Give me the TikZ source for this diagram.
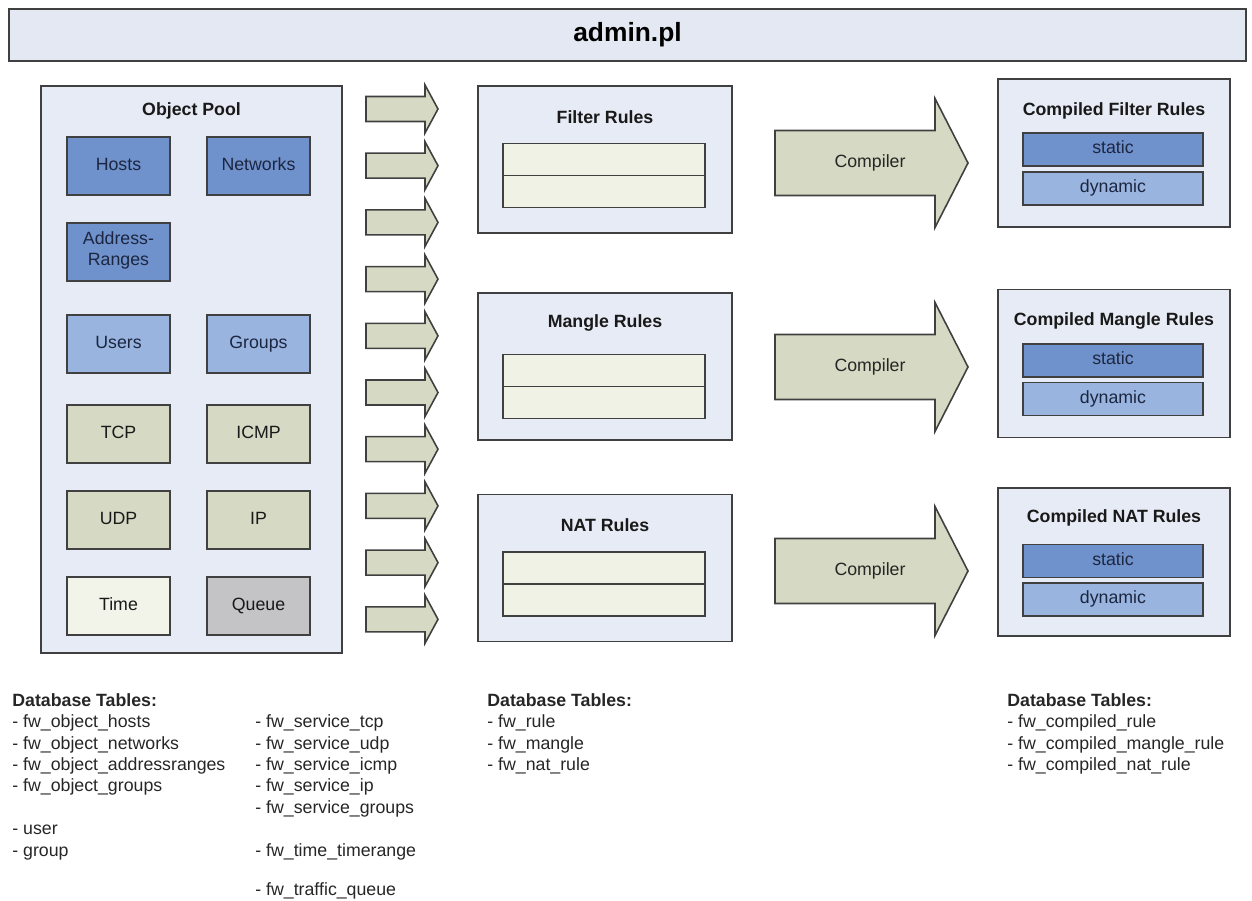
\documentclass[tikz,border=0pt]{standalone}
\usepackage{fontspec}
\setmainfont{Liberation Sans}
\usepackage{tikz}
\usetikzlibrary{positioning}
\definecolor{BarFill}{RGB}{227,232,243}
\definecolor{PoolFill}{RGB}{230,235,245}
\definecolor{HostBlue}{RGB}{111,145,204}
\definecolor{UserBlue}{RGB}{152,180,223}
\definecolor{ServKhaki}{RGB}{214,217,195}
\definecolor{TimeFill}{RGB}{242,243,233}
\definecolor{QueueGray}{RGB}{196,196,199}
\definecolor{TableFill}{RGB}{241,242,230}
\definecolor{EdgeGray}{RGB}{64,64,64}
\definecolor{NavyText}{RGB}{28,38,64}
\newcommand{\diagfont}{\fontsize{10.1}{12.2}\selectfont}

\begin{document}
\begin{tikzpicture}[x=0.02cm, y=-0.02cm, font=\diagfont]
    \tikzset{
        titlebar/.style={rectangle, draw=EdgeGray, line width=1.1pt, fill=BarFill,
            minimum width=24.74cm, minimum height=1.04cm,
            font=\fontsize{15}{18}\selectfont\bfseries},
        outerbox/.style={rectangle, draw=EdgeGray, line width=1pt, fill=PoolFill},
        boxtitle/.style={inner sep=0pt, font=\diagfont\bfseries, text=black!90},
        objbox/.style={rectangle, draw=EdgeGray, line width=0.9pt, inner sep=0pt,
            minimum width=2.06cm, minimum height=1.16cm, align=center,
            execute at begin node=\strut},
        hostobj/.style={objbox, fill=HostBlue, text=NavyText},
        userobj/.style={objbox, fill=UserBlue, text=NavyText},
        servobj/.style={objbox, fill=ServKhaki, text=black!90},
        timeobj/.style={objbox, fill=TimeFill, text=black!90},
        queueobj/.style={objbox, fill=QueueGray, text=black!90},
        feedarrow/.style={draw=EdgeGray, line width=0.9pt, fill=ServKhaki},
        compilearrow/.style={draw=EdgeGray, line width=0.9pt, fill=ServKhaki},
        arrowtext/.style={inner sep=0pt, text=black!85},
        rulebox/.style={outerbox, minimum width=5.08cm, minimum height=2.94cm},
        rulerow/.style={rectangle, draw=EdgeGray, line width=0.9pt, fill=TableFill,
            minimum width=4.04cm, minimum height=0.64cm},
        compiledbox/.style={outerbox, minimum width=4.64cm, minimum height=2.96cm},
        staticpart/.style={rectangle, draw=EdgeGray, line width=0.9pt, fill=HostBlue,
            text=NavyText, inner sep=0pt, minimum width=3.6cm, minimum height=0.66cm,
            execute at begin node=\strut},
        dynamicpart/.style={staticpart, fill=UserBlue},
        dbtext/.style={anchor=north west, align=left, inner sep=0pt, text=black!85}
    }
    \useasboundingbox (0,0) rectangle (1252,901);

    \node[titlebar] (admin) at (627.5,35) {admin.pl};

    % object pool
    \node[outerbox, minimum width=6.02cm, minimum height=11.34cm] (pool) at (191.5,369.5) {};
    \node[boxtitle] (pooltitle) at (191.5,111) {Object Pool};
    \node[hostobj] (hosts) at (118.5,166) {Hosts};
    \node[hostobj] (networks) at (258.5,166) {Networks};
    \node[hostobj] (ranges) at (118.5,252) {Address-\\Ranges};
    \node[userobj] (users) at (118.5,344) {Users};
    \node[userobj] (groups) at (258.5,344) {Groups};
    \node[servobj] (tcp) at (118.5,434) {TCP};
    \node[servobj] (icmp) at (258.5,434) {ICMP};
    \node[servobj] (udp) at (118.5,520) {UDP};
    \node[servobj] (ip) at (258.5,520) {IP};
    \node[timeobj] (time) at (118.5,606) {Time};
    \node[queueobj] (queue) at (258.5,606) {Queue};

    % feed arrows
    \foreach \i in {0,...,9}{
        \pgfmathsetmacro{\yy}{109+56.7*\i}
        \draw[feedarrow, shift={(366,\yy)}] (0,-12.5) -- (59,-12.5) -- (59,-24)
            -- (72,0) -- (59,24) -- (59,12.5) -- (0,12.5) -- cycle;
    }

    % rule tables
    \node[rulebox] (filter) at (605,159.5) {};
    \node[boxtitle] (filtertitle) at (605,117) {Filter Rules};
    \node[rulerow] (filterrow1) at (604,159.5) {};
    \node[rulerow] (filterrow2) at (604,191.5) {};

    \node[rulebox] (mangle) at (605,366.5) {};
    \node[boxtitle] (mangletitle) at (605,323) {Mangle Rules};
    \node[rulerow] (manglerow1) at (604,370.5) {};
    \node[rulerow] (manglerow2) at (604,402.5) {};

    \node[rulebox] (nat) at (605,568) {};
    \node[boxtitle] (nattitle) at (605,525) {NAT Rules};
    \node[rulerow] (natrow1) at (604,568) {};
    \node[rulerow] (natrow2) at (604,600) {};

    % compilers
    \foreach \yc/\name in {163/compfilter, 367/compmangle, 571/compnat}{
        \draw[compilearrow, shift={(775,\yc)}] (0,-32.5) -- (160,-32.5) -- (160,-64.5)
            -- (193,0) -- (160,64.5) -- (160,32.5) -- (0,32.5) -- cycle;
        \node[arrowtext] (\name) at (870,\yc) {Compiler};
    }

    % compiled tables
    \node[compiledbox] (cfilter) at (1114,153) {};
    \node[boxtitle] (cfiltertitle) at (1114,111) {Compiled Filter Rules};
    \node[staticpart] (cfilterstatic) at (1113,149.5) {static};
    \node[dynamicpart] (cfilterdynamic) at (1113,188.5) {dynamic};

    \node[compiledbox] (cmangle) at (1114,363.5) {};
    \node[boxtitle] (cmangletitle) at (1114,321) {Compiled Mangle Rules};
    \node[staticpart] (cmanglestatic) at (1113,360.5) {static};
    \node[dynamicpart] (cmangledynamic) at (1113,399) {dynamic};

    \node[compiledbox] (cnat) at (1114,562) {};
    \node[boxtitle] (cnattitle) at (1114,518) {Compiled NAT Rules};
    \node[staticpart] (cnatstatic) at (1113,561) {static};
    \node[dynamicpart] (cnatdynamic) at (1113,599.5) {dynamic};

    % database tables
    \node[dbtext] (dbobjects) at (12,693) {\textbf{Database Tables:}\\
        - fw\_object\_hosts\\- fw\_object\_networks\\- fw\_object\_addressranges\\
        - fw\_object\_groups\\[12.2pt]- user\\- group};
    \node[dbtext] (dbservices) at (255,714.4) {- fw\_service\_tcp\\- fw\_service\_udp\\
        - fw\_service\_icmp\\- fw\_service\_ip\\- fw\_service\_groups\\[12.2pt]
        - fw\_time\_timerange\\[10pt]- fw\_traffic\_queue};
    \node[dbtext] (dbrules) at (487,693) {\textbf{Database Tables:}\\
        - fw\_rule\\- fw\_mangle\\- fw\_nat\_rule};
    \node[dbtext] (dbcompiled) at (1007,693) {\textbf{Database Tables:}\\
        - fw\_compiled\_rule\\- fw\_compiled\_mangle\_rule\\- fw\_compiled\_nat\_rule};
\end{tikzpicture}
\end{document}
